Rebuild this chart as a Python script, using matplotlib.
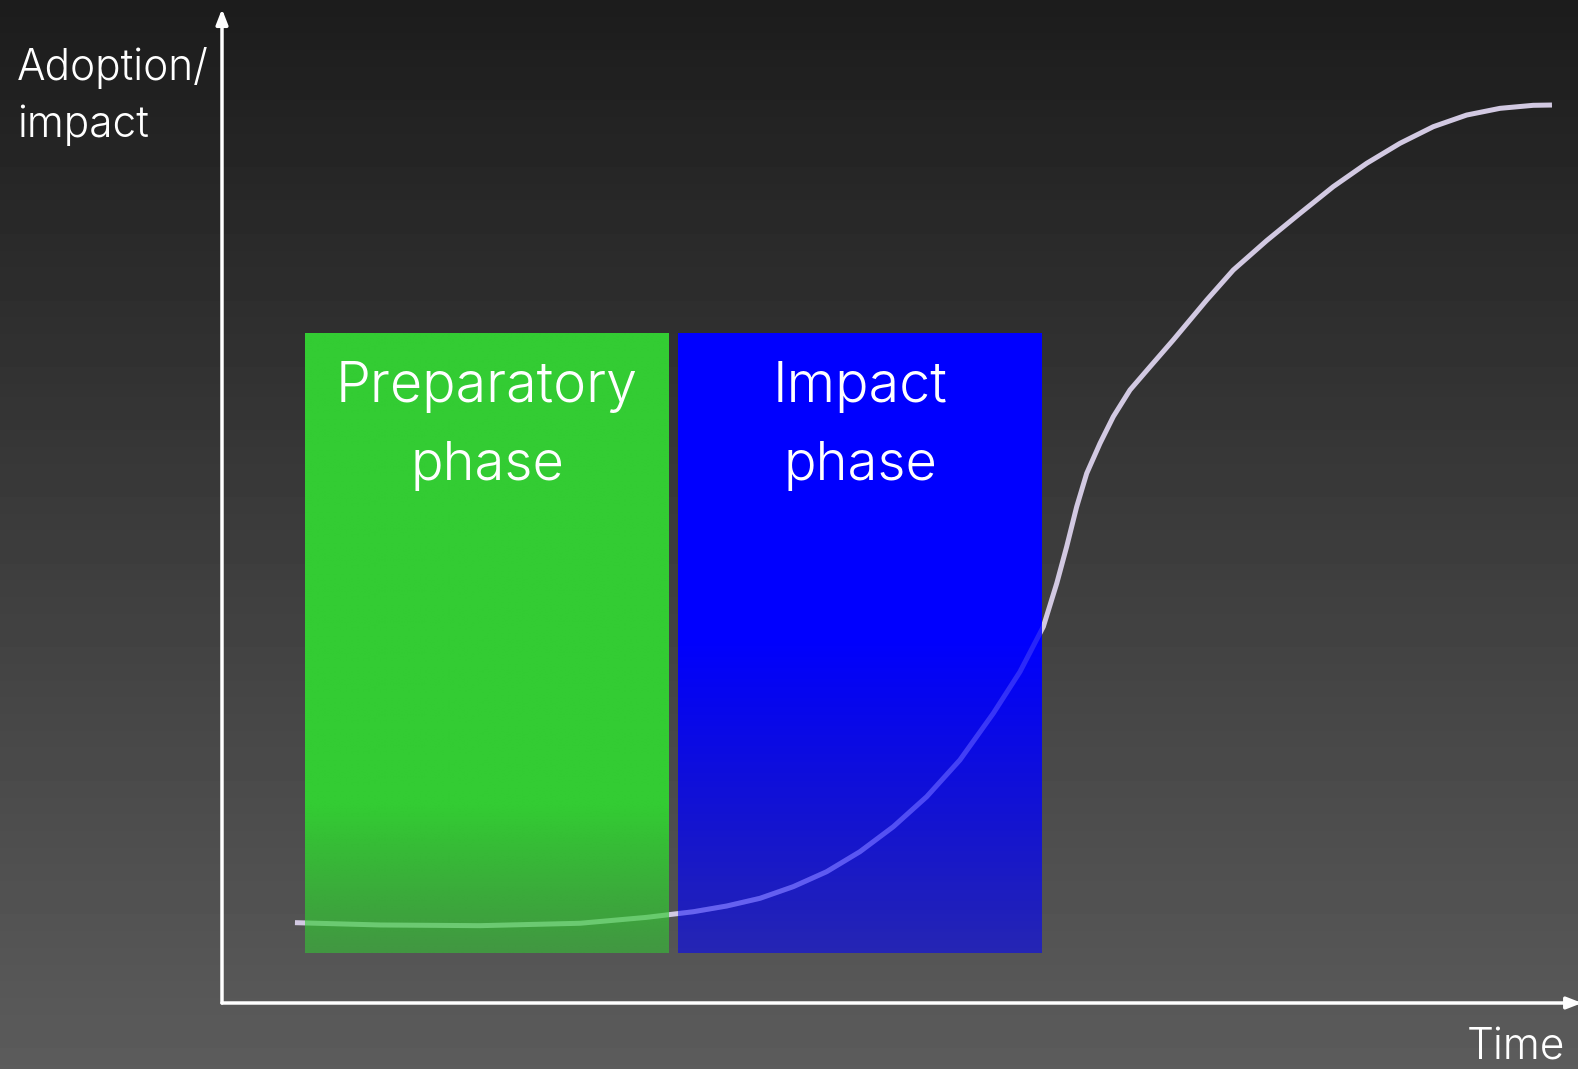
import numpy as np
import matplotlib
matplotlib.use("Agg")
import matplotlib.pyplot as plt
from matplotlib.patches import Rectangle

# adoption curve over time (axis units 0-100)
time = [5.38, 11.65, 19.03, 26.40, 31.32, 34.76, 37.22, 39.68, 42.13, 44.59,
        47.05, 49.51, 51.97, 54.42, 56.88, 58.85, 60.57, 61.56, 62.29, 63.03,
        63.77, 64.75, 65.73, 66.96, 68.44, 70.15, 72.62, 74.58, 77.04, 79.50,
        81.95, 84.42, 86.87, 89.33, 91.79, 94.25, 96.70, 98.08]
adoption = [8.01, 7.78, 7.71, 7.95, 8.54, 9.10, 9.67, 10.44, 11.60, 13.09,
            15.09, 17.58, 20.57, 24.23, 28.88, 33.03, 37.52, 41.84, 45.49, 49.48,
            52.81, 55.80, 58.46, 61.12, 63.44, 66.10, 70.09, 73.08, 76.01, 78.73,
            81.39, 83.72, 85.71, 87.37, 88.53, 89.20, 89.50, 89.53]

# phase blocks
phases = ["Preparatory\nphase", "Impact\nphase"]
phase_start = [6.12, 33.63]
phase_end = [32.96, 60.47]
phase_top = 66.8
phase_bottom = 5.0
phase_colors = [(51 / 255, 204 / 255, 51 / 255), (0.0, 0.0, 1.0)]
phase_fade = [19.5, 36.2]

FONT = "Inter"
WEIGHT = 300
W, H = 1578, 1069
fig = plt.figure(figsize=(W / 100, H / 100), dpi=100)

# background gradient
bg = fig.add_axes([0, 0, 1, 1])
grad = np.linspace(0.11, 0.36, 256).reshape(-1, 1)
bg.imshow(grad, cmap="gray", vmin=0, vmax=1, aspect="auto", extent=[0, 1, 0, 1], origin="upper")
bg.set_axis_off()

ax = fig.add_axes([222 / W, (H - 1003) / H, (W - 222) / W, 1003 / H])
ax.set_xlim(0, 100)
ax.set_ylim(0, 100)
ax.set_axis_off()
ax.patch.set_alpha(0)

line_col = "#d2c9e2"
ax.plot(time, adoption, color=line_col, lw=3.6, solid_capstyle="butt",
        solid_joinstyle="round", zorder=2)

for i in range(len(phases)):
    ys = np.linspace(phase_top, phase_bottom, 300)
    alpha = np.where(ys > phase_fade[i], 1.0,
                     1.0 - 0.44 * (phase_fade[i] - ys) / (phase_fade[i] - phase_bottom))
    img = np.zeros((len(ys), 1, 4))
    img[:, 0, :3] = phase_colors[i]
    img[:, 0, 3] = alpha
    ax.imshow(img, extent=[phase_start[i], phase_end[i], phase_bottom, phase_top],
              aspect="auto", origin="upper", zorder=3, interpolation="bilinear")
    cx = (phase_start[i] + phase_end[i]) / 2
    first, second = phases[i].split("\n")
    ax.text(cx, 59.9, first, color="white", fontsize=40, family=FONT, fontweight=WEIGHT,
            ha="center", va="baseline", zorder=5)
    ax.text(cx, 52.1, second, color="white", fontsize=39, family=FONT, fontweight=WEIGHT,
            ha="center", va="baseline", zorder=5)

# faint trace of the curve through the impact block
clip = Rectangle((phase_start[1], phase_bottom), phase_end[1] - phase_start[1],
                 phase_top - phase_bottom, transform=ax.transData)
tr, = ax.plot(time, adoption, color=line_col, lw=3.6, alpha=0.18, zorder=4,
              solid_joinstyle="round")
tr.set_clip_path(clip)

# axes with arrow heads
arrow = dict(arrowstyle="-|>,head_length=0.9,head_width=0.35", color="white", lw=2.5,
             shrinkA=0, shrinkB=0)
ax.annotate("", xy=(0, 99.1), xytext=(0, 0), xycoords="data", arrowprops=arrow,
            annotation_clip=False, zorder=6)
ax.annotate("", xy=(100.3, 0), xytext=(0, 0), xycoords="data", arrowprops=arrow,
            annotation_clip=False, zorder=6)

fig.text(17 / W, 1 - 80 / H, "Adoption/", color="white", fontsize=30.5, family=FONT,
         fontweight=WEIGHT, ha="left", va="baseline")
fig.text(17 / W, 1 - 137 / H, "impact", color="white", fontsize=30.5, family=FONT,
         fontweight=WEIGHT, ha="left", va="baseline")
fig.text(1565 / W, 1 - 1060 / H, "Time", color="white", fontsize=30.5, family=FONT,
         fontweight=WEIGHT, ha="right", va="baseline")

fig.savefig("out.png", dpi=100)
